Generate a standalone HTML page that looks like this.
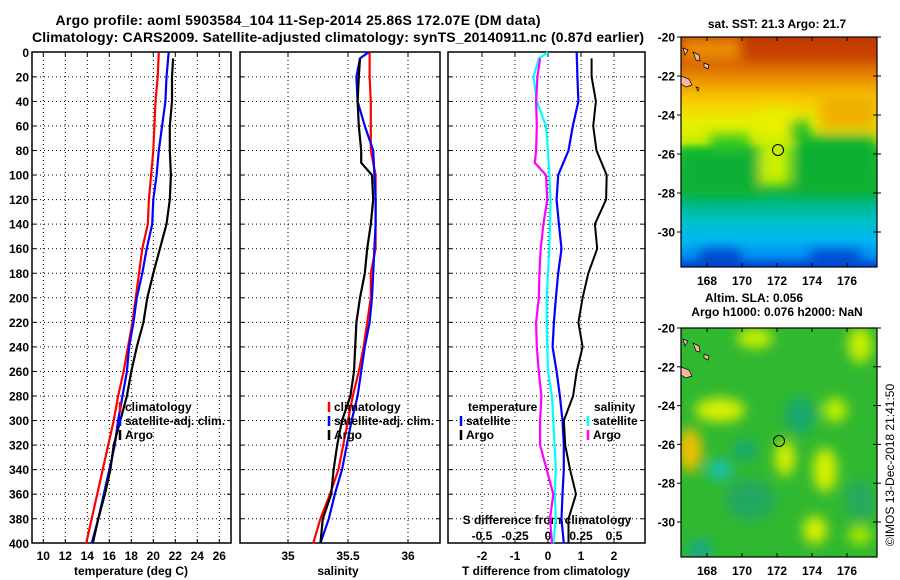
<!DOCTYPE html>
<html><head><meta charset="utf-8"><style>
html,body{margin:0;padding:0;background:#fff;}
svg{display:block;font-family:"Liberation Sans",sans-serif;font-weight:bold;}
</style></head><body>
<svg id="fig" width="900" height="580" viewBox="0 0 900 580" xmlns="http://www.w3.org/2000/svg">
<defs>
<linearGradient id="sstGrad" x1="0" y1="0" x2="0" y2="1">
<stop offset="0" stop-color="#c03800"/><stop offset="0.08" stop-color="#c84400"/>
<stop offset="0.17" stop-color="#e88800"/><stop offset="0.27" stop-color="#f8c800"/>
<stop offset="0.37" stop-color="#e8f000"/><stop offset="0.46" stop-color="#c8f000"/>
<stop offset="0.5" stop-color="#20c820"/><stop offset="0.66" stop-color="#10b038"/>
<stop offset="0.72" stop-color="#00b880"/><stop offset="0.8" stop-color="#00c0c8"/>
<stop offset="0.88" stop-color="#00b8f0"/><stop offset="0.95" stop-color="#0090f0"/>
<stop offset="1" stop-color="#0040d0"/></linearGradient>
<filter id="blur6"><feGaussianBlur stdDeviation="6"/></filter>
<filter id="blur3"><feGaussianBlur stdDeviation="3"/></filter>
<clipPath id="clipTop"><rect x="681" y="37" width="196" height="230"/></clipPath>
<clipPath id="clipBot"><rect x="681" y="328" width="196" height="229"/></clipPath>
</defs>
<g id="titles">
<text x="298" y="25" text-anchor="middle" font-size="14" textLength="485">Argo profile: aoml 5903584_104 11-Sep-2014 25.86S 172.07E (DM data)</text>
<text x="338" y="42" text-anchor="middle" font-size="14" textLength="612">Climatology: CARS2009. Satellite-adjusted climatology: synTS_20140911.nc (0.87d earlier)</text>
</g>
<g id="plots"></g>
<g id="maps">
<g clip-path="url(#clipTop)">
<rect x="681" y="37" width="196" height="230" fill="url(#sstGrad)"/>
<g filter="url(#blur6)">
<rect x="681" y="37" width="60" height="25" fill="#e88a00"/>
<rect x="820" y="95" width="57" height="35" fill="#f0b000"/>
<rect x="681" y="150" width="80" height="45" fill="#10b035"/>
<rect x="795" y="135" width="82" height="55" fill="#10b030"/>
<rect x="760" y="140" width="30" height="45" fill="#c8f000"/>
<rect x="760" y="110" width="35" height="25" fill="#e8f000"/>
<rect x="710" y="135" width="40" height="15" fill="#30c820"/>
<rect x="790" y="120" width="20" height="20" fill="#20c020"/>
<rect x="700" y="250" width="40" height="17" fill="#0040c8"/>
<rect x="810" y="250" width="50" height="17" fill="#0048d0"/>
</g>
<circle cx="778" cy="150" r="5.5" fill="none" stroke="#000" stroke-width="1"/>
<path d="M681,76 l8,3 l3,6 l-6,2 l-5,-3z M683,48 l5,2 l-3,5z M693,52 l6,3 l1,6 l-4,-1z M704,63 l5,2 l-1,4 l-4,-2z M696,87 l3,1 l-1,3z" fill="#f4b8a0" stroke="#000" stroke-width="0.7"/>
</g>
<rect x="681" y="37" width="196" height="230" fill="none" stroke="#000" stroke-width="1.2"/>
<g clip-path="url(#clipBot)">
<rect x="681" y="328" width="196" height="229" fill="#30b830"/>
<g filter="url(#blur6)">
<ellipse cx="690" cy="450" rx="12" ry="22" fill="#f0c000"/>
<ellipse cx="720" cy="410" rx="25" ry="12" fill="#d8f000"/>
<ellipse cx="755" cy="338" rx="18" ry="10" fill="#c8f000"/>
<ellipse cx="785" cy="458" rx="10" ry="18" fill="#d8f000"/>
<ellipse cx="825" cy="470" rx="12" ry="22" fill="#d8f000"/>
<ellipse cx="815" cy="530" rx="12" ry="14" fill="#d8f000"/>
<ellipse cx="860" cy="345" rx="12" ry="18" fill="#c8f000"/>
<ellipse cx="835" cy="410" rx="12" ry="12" fill="#c0f000"/>
<ellipse cx="720" cy="470" rx="12" ry="10" fill="#18c0b0"/>
<ellipse cx="800" cy="415" rx="15" ry="18" fill="#18a870"/>
<ellipse cx="750" cy="500" rx="25" ry="20" fill="#20a860"/>
<ellipse cx="700" cy="550" rx="12" ry="10" fill="#18a890"/>
<ellipse cx="860" cy="500" rx="15" ry="20" fill="#28a860"/>
<ellipse cx="745" cy="450" rx="12" ry="10" fill="#18a870"/>
<ellipse cx="860" cy="535" rx="12" ry="10" fill="#a8e800"/>
</g>
<circle cx="779" cy="441" r="5.5" fill="none" stroke="#000" stroke-width="1"/>
<path d="M681,367 l8,3 l3,6 l-6,2 l-5,-3z M683,339 l5,2 l-3,5z M693,343 l6,3 l1,6 l-4,-1z M704,354 l5,2 l-1,4 l-4,-2z" fill="#f4b8a0" stroke="#000" stroke-width="0.7"/>
</g>
<rect x="681" y="328" width="196" height="229" fill="none" stroke="#000" stroke-width="1.2"/>
<text x="777" y="28" text-anchor="middle" font-size="12">sat. SST: 21.3 Argo: 21.7</text>
<text x="754" y="302" text-anchor="middle" font-size="12">Altim. SLA: 0.056</text>
<text x="777" y="316" text-anchor="middle" font-size="12">Argo h1000: 0.076 h2000: NaN</text>
<text transform="translate(894,465) rotate(-90)" text-anchor="middle" font-size="12" font-weight="normal">©IMOS 13-Dec-2018 21:41:50</text>
</g>
</svg>
<script>
// ---------- data ----------
const depths = [0,20,40,60,80,100,120,140,160,180,200,220,240,260,280,300,320,340,360,380,400];
const argoDepths = [5,20,40,60,80,100,120,140,160,180,200,220,240,260,280,300,320,340,360,380,400];
const satDepths = [0,5,20,40,60,80,100,120,140,160,180,200,220,240,260,280,300,320,340,360,380,400];
const argoSDepths = [5,20,40,60,80,90,100,120,140,160,180,200,220,240,260,280,300,320,340,360,380,400];
const tClim = [20.5,20.4,20.2,20.1,20.0,19.8,19.6,19.5,19.0,18.7,18.4,18.1,17.7,17.3,16.8,16.4,15.9,15.4,14.9,14.4,13.9];
const tSat = [21.4,21.2,21.1,20.8,20.5,20.3,20.0,19.9,19.4,19.0,18.5,18.2,17.8,17.6,17.2,16.8,16.5,16.0,15.5,15.0,14.4];
const tArgo = [21.8,21.7,21.7,21.5,21.5,21.6,21.5,21.2,20.6,20.0,19.45,19.1,18.5,18.0,17.6,17.0,16.4,16.1,15.6,15.0,14.5];
const sClim = [35.68,35.68,35.69,35.69,35.69,35.73,35.73,35.73,35.73,35.69,35.69,35.66,35.63,35.59,35.54,35.50,35.46,35.42,35.35,35.27,35.21];
const sSat = [35.67,35.60,35.57,35.58,35.64,35.71,35.72,35.73,35.73,35.72,35.71,35.70,35.68,35.64,35.61,35.58,35.53,35.49,35.45,35.39,35.34,35.27];
const sArgo = [35.60,35.59,35.58,35.59,35.61,35.61,35.70,35.71,35.69,35.66,35.64,35.60,35.57,35.56,35.55,35.52,35.45,35.41,35.38,35.36,35.29,35.27];
const dTSat = [0.87,0.89,0.92,0.75,0.62,0.31,0.26,0.33,0.41,0.31,0.24,0.18,0.14,0.26,0.36,0.44,0.48,0.48,0.44,0.41,0.48];
const dTArgo = [1.32,1.32,1.45,1.37,1.47,1.78,1.76,1.42,1.49,1.22,1.05,0.92,1.05,0.87,0.76,0.48,0.52,0.67,0.85,0.62,0.62];
const dSSat = [0,-0.07,-0.11,-0.085,-0.015,0,0.01,0.02,0.015,0.01,0,-0.01,-0.01,-0.005,0,0.03,0.04,0.05,0.06,0.05,0.06,0.04];
const dSArgo = [-0.06,-0.08,-0.09,-0.085,-0.09,-0.10,-0.015,-0.005,-0.035,-0.055,-0.065,-0.07,-0.09,-0.085,-0.07,-0.05,-0.06,-0.06,-0.01,0.04,0.015,0.03];
const depthTicks = [0,20,40,60,80,100,120,140,160,180,200,220,240,260,280,300,320,340,360,380,400];
const tTicks = [10,12,14,16,18,20,22,24,26];
const sTicks = [35,35.5,36];
const sTickLabels = ["35","35.5","36"];
const dTicks = [-2,-1,0,1,2];
const dSTicks = [-0.5,-0.25,0,0.25,0.5];
const dSTickLabels = ["-0.5","-0.25","0","0.25","0.5"];
const lonTicks = [168,170,172,174,176];
const latTicks = [-20,-22,-24,-26,-28,-30];

// ---------- scales ----------
const Y0 = 52.3, YK = 1.2275;
const yD = d => Y0 + d * YK;
const xT = t => 43.3 + (t - 10) * 11;
const xS = s => 288 + (s - 35) * 120;
const xD = v => 548 + v * 33;
const xDS = s => 548 + s * 132;
const lonX = lo => 707 + (lo - 168) * 17.5;
const latYTop = la => 37 + (-20 - la) * 19.5;
const latYBot = la => 328 + (-20 - la) * 19.4;

const NS = "http://www.w3.org/2000/svg";
const root = document.getElementById("plots");
function mk(tag, attrs, parent) {
  const e = document.createElementNS(NS, tag);
  for (const k in attrs) e.setAttribute(k, attrs[k]);
  (parent || root).appendChild(e);
  return e;
}
function txt(x, y, s, anchor, size, parent) {
  const t = mk("text", {x: x, y: y, "text-anchor": anchor, "font-size": size}, parent);
  t.textContent = s;
  return t;
}

const panels = [
  {x0: 32, x1: 231, name: "temperature-panel"},
  {x0: 240, x1: 440, name: "salinity-panel"},
  {x0: 448, x1: 645, name: "difference-panel"}
];
const PY0 = 52, PY1 = 543;

panels.forEach((p, i) => {
  const g = mk("g", {});
  
  
  // horizontal grid
  depthTicks.forEach(d => {
    if (d === 0 || d === 400) return;
    const l = mk("line", {x1: p.x0, x2: p.x1, y1: yD(d), y2: yD(d), stroke: "#000", "stroke-width": 1, "stroke-dasharray": "1,3"}, g);
    
    
    mk("line", {x1: p.x0, x2: p.x0 + 4, y1: yD(d), y2: yD(d), stroke: "#000"}, g);
    mk("line", {x1: p.x1 - 4, x2: p.x1, y1: yD(d), y2: yD(d), stroke: "#000"}, g);
  });
  let vx = [];
  if (i === 0) vx = tTicks.map(xT);
  if (i === 1) vx = sTicks.map(xS);
  if (i === 2) vx = dTicks.map(xD);
  vx.forEach(x => {
    const l = mk("line", {x1: x, x2: x, y1: PY0, y2: PY1, stroke: "#000", "stroke-width": 1, "stroke-dasharray": "1,3"}, g);
    
    
    mk("line", {x1: x, x2: x, y1: PY1 - 4, y2: PY1, stroke: "#000"}, g);
    mk("line", {x1: x, x2: x, y1: PY0, y2: PY0 + 4, stroke: "#000"}, g);
  });
  const fr = mk("rect", {x: p.x0, y: PY0, width: p.x1 - p.x0, height: PY1 - PY0, fill: "none", stroke: "#000", "stroke-width": 1.5}, g);
  
  
});

// y tick labels
depthTicks.forEach(d => {
  const t = txt(29, yD(d) + 4.5, String(d), "end", 12);
  
  
});
// x tick labels
tTicks.forEach(v => {
  const t = txt(xT(v), 560, String(v), "middle", 12);
  
  
});
sTicks.forEach((v, k) => {
  const t = txt(xS(v), 560, sTickLabels[k], "middle", 12);
  
  
});
dTicks.forEach(v => {
  const t = txt(xD(v), 560, String(v), "middle", 12);
  
  
});
dSTicks.forEach((v, k) => {
  const t = txt(xDS(v), 540, dSTickLabels[k], "middle", 12);
  
  
});
let at;
at = txt(131, 575, "temperature (deg C)", "middle", 12);


at = txt(338, 575, "salinity", "middle", 12);


at = txt(546, 575, "T difference from climatology", "middle", 12);


at = txt(547, 524, "S difference from climatology", "middle", 12);



// series
function series(ds, vals, xf, color, w, name) {
  const pts = vals.map((v, k) => xf(v).toFixed(1) + "," + yD(ds[k]).toFixed(1)).join(" ");
  const pl = mk("polyline", {points: pts, fill: "none", stroke: color, "stroke-width": w, "stroke-linejoin": "round"});
  
  
}
series(depths, tClim, xT, "#ff0000", 2.2, "temperature-climatology-line");
series(depths, tSat, xT, "#0000ff", 2.2, "temperature-satellite-line");
series(argoDepths, tArgo, xT, "#000000", 2.2, "temperature-argo-line");
series(depths, sClim, xS, "#ff0000", 2.2, "salinity-climatology-line");
series(satDepths, sSat, xS, "#0000ff", 2.2, "salinity-satellite-line");
series(argoSDepths, sArgo, xS, "#000000", 2.2, "salinity-argo-line");
series(satDepths, dSSat, xDS, "#00ffff", 2.2, "s-diff-satellite-line");
series(argoSDepths, dSArgo, xDS, "#ff00ff", 2.2, "s-diff-argo-line");
series(depths, dTSat, xD, "#0000ff", 2.2, "t-diff-satellite-line");
series(argoDepths, dTArgo, xD, "#000000", 2, "t-diff-argo-line");

// legends
function legend(x, y, color, label, name) {
  const g = mk("g", {});
  
  
  mk("line", {x1: x, x2: x, y1: y - 9, y2: y + 1, stroke: color, "stroke-width": 2.5}, g);
  txt(x + 5, y, label, "start", 12, g);
}
legend(120, 411, "#ff0000", "climatology", "legend-entry-climatology");
legend(120, 425, "#0000ff", "satellite-adj. clim.", "legend-entry-satellite-adj");
legend(120, 439, "#000000", "Argo", "legend-entry-argo");
legend(329, 411, "#ff0000", "climatology", "legend-entry-sal-climatology");
legend(329, 425, "#0000ff", "satellite-adj. clim.", "legend-entry-sal-satellite-adj");
legend(329, 439, "#000000", "Argo", "legend-entry-sal-argo");
at = txt(468, 411, "temperature", "start", 12);


legend(461, 425, "#0000ff", "satellite", "legend-entry-t-satellite");
legend(461, 439, "#000000", "Argo", "legend-entry-t-argo");
at = txt(594, 411, "salinity", "start", 12);


legend(588, 425, "#00ffff", "satellite", "legend-entry-s-satellite");
legend(588, 439, "#ff00ff", "Argo", "legend-entry-s-argo");

// map axes
const maps = document.getElementById("maps");
[[latYTop, 37, 267, 285], [latYBot, 328, 557, 575]].forEach(cfg => {
  const [ly, top, bot, lab] = cfg;
  lonTicks.forEach(lo => {
    mk("line", {x1: lonX(lo), x2: lonX(lo), y1: bot, y2: bot - 4, stroke: "#000"}, maps);
    mk("line", {x1: lonX(lo), x2: lonX(lo), y1: top, y2: top + 4, stroke: "#000"}, maps);
    const t = txt(lonX(lo), lab, String(lo), "middle", 12, maps);
    
    
  });
  latTicks.forEach(la => {
    const y = ly(la);
    mk("line", {x1: 677, x2: 681, y1: y, y2: y, stroke: "#000"}, maps);
    mk("line", {x1: 873, x2: 881, y1: y, y2: y, stroke: "#000"}, maps);
    const t = txt(675, y + 4.5, String(la), "end", 12, maps);
    
    
  });
});
</script>
</body></html>
